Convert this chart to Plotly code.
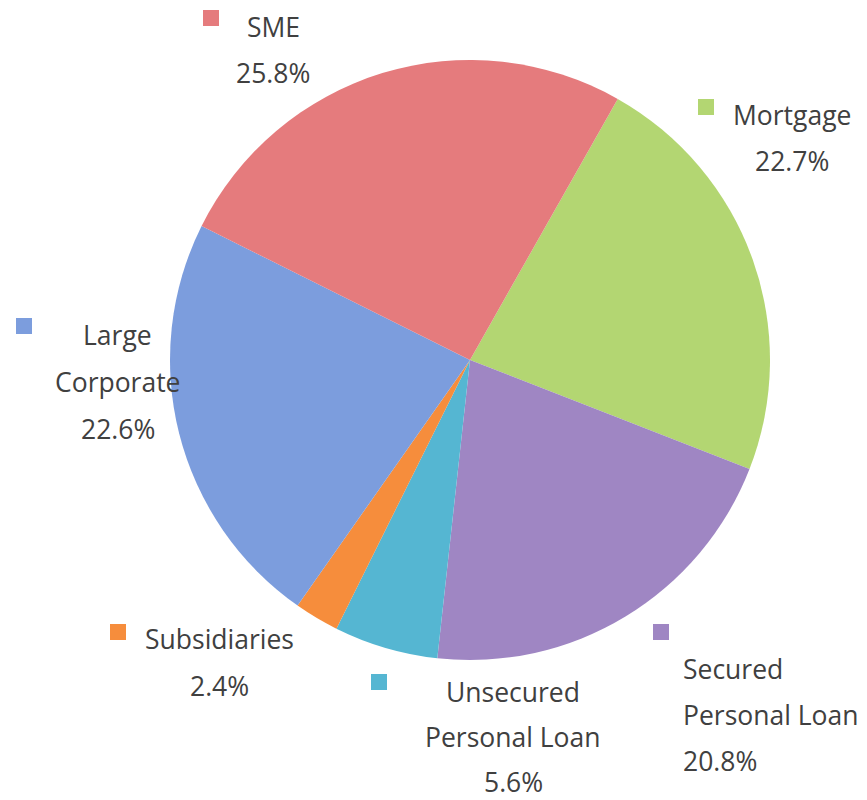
import plotly.graph_objects as go

# ---- data ----
labels = ["Mortgage", "Secured Personal Loan", "Unsecured Personal Loan",
          "Subsidiaries", "Large Corporate", "SME"]
values = [22.7, 20.8, 5.6, 2.4, 22.6, 25.8]

# ---- styling ----
OFF = 8  # page body margin
W, H = 867 - 2 * OFF, 800 - OFF
colors = ["#B3D672", "#9F86C3", "#55B6D2", "#F68D3C", "#7C9DDD", "#E57B7D"]

label_lines = {
    "Mortgage": ["Mortgage"],
    "Secured Personal Loan": ["Secured", "Personal Loan"],
    "Unsecured Personal Loan": ["Unsecured", "Personal Loan"],
    "Subsidiaries": ["Subsidiaries"],
    "Large Corporate": ["Large", "Corporate"],
    "SME": ["SME"],
}
layout_pos = {
    # marker (x,y), first line (x,y), line step, xanchor
    "Mortgage": ((706, 107), (792, 115), 46, "center"),
    "Secured Personal Loan": ((661, 632), (681, 669), 46, "left"),
    "Unsecured Personal Loan": ((379, 682), (513, 692), 45, "center"),
    "Subsidiaries": ((118, 632), (219, 639), 47, "center"),
    "Large Corporate": ((24, 326), (118, 335), 47, "center"),
    "SME": ((211, 18), (273, 27), 46, "center"),
}


def px(x):
    return (x - OFF) / W


def py(y):
    return 1 - (y - OFF) / H


fig = go.Figure()
fig.add_trace(go.Pie(
    labels=labels, values=values,
    sort=False, direction="clockwise", rotation=29.5,
    marker=dict(colors=colors, line=dict(width=0)),
    textinfo="none", hoverinfo="label+percent",
    showlegend=False,
    domain=dict(x=[px(170), px(770)], y=[py(661), py(59)]),
))

font = dict(family="Open Sans, Noto Sans, sans-serif", size=26.5, color="#404040")
annotations = []
shapes = []
for lab, val, col in zip(labels, values, colors):
    (mx, my), (tx, ty), step, anchor = layout_pos[lab]
    lines = label_lines[lab] + [f"{val:.1f}%"]
    for i, line in enumerate(lines):
        annotations.append(dict(
            text=line, x=px(tx), y=py(ty + i * step),
            xref="paper", yref="paper", xanchor=anchor, yanchor="middle",
            showarrow=False, font=font,
        ))
    s = 8
    shapes.append(dict(
        type="rect", xref="paper", yref="paper",
        x0=px(mx - s), x1=px(mx + s), y0=py(my + s), y1=py(my - s),
        fillcolor=col, line=dict(width=0),
    ))

fig.update_layout(
    width=W, height=H,
    margin=dict(l=0, r=0, t=0, b=0),
    paper_bgcolor="white", plot_bgcolor="white",
    annotations=annotations, shapes=shapes,
)

fig.write_html("out.html")
